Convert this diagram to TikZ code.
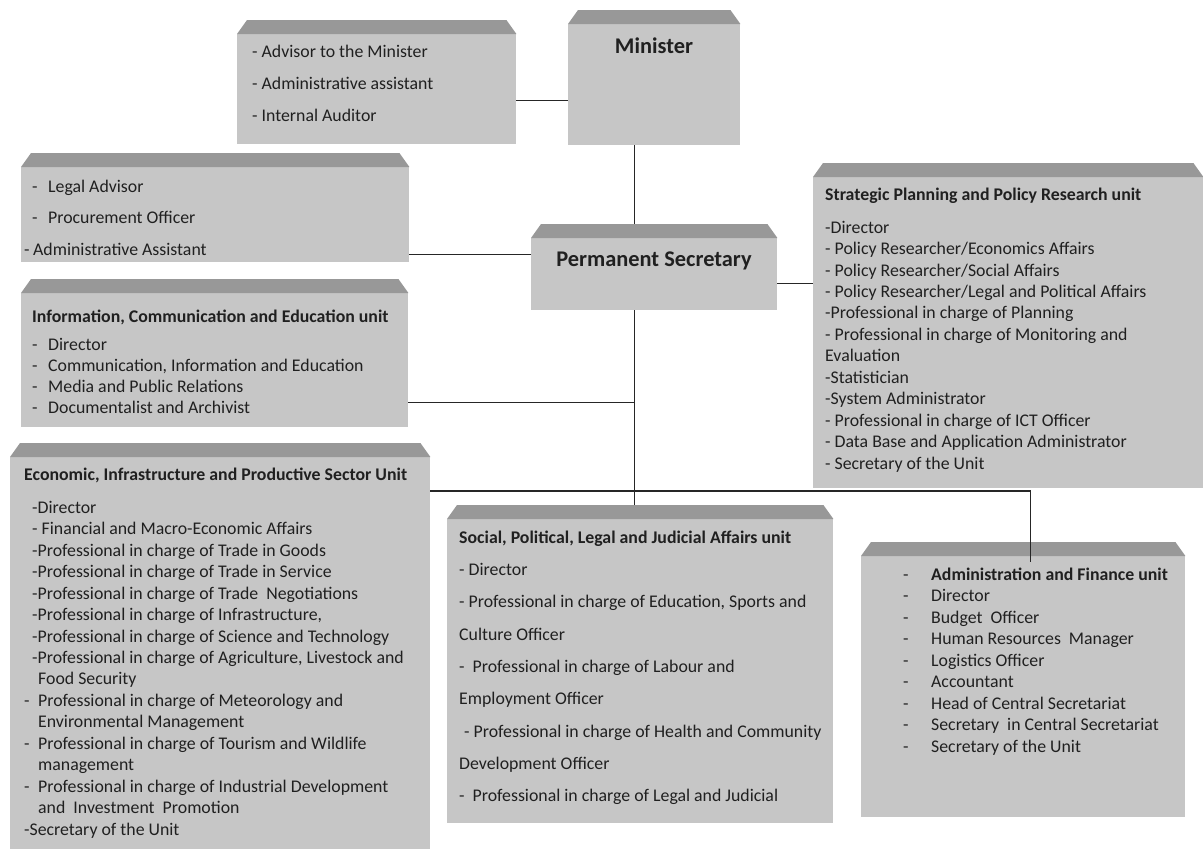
\documentclass[tikz,border=0pt]{standalone}
\usepackage{fontspec}
\setmainfont{Carlito}
\usepackage{xcolor}
\definecolor{boxbody}{RGB}{198,198,198}
\definecolor{boxtop}{RGB}{152,152,152}
\definecolor{inkgray}{RGB}{32,32,32}
\newcommand{\topline}{\rule{0pt}{14pt}}
\newcommand{\dash}[1]{\makebox[#1][l]{-}}
\tikzset{
  unitbox/.style={rectangle, inner sep=0pt, anchor=north west},
  unittext/.style={anchor=north west, inner sep=0pt, align=left, text=inkgray},
  headtext/.style={anchor=base, inner sep=0pt, text=inkgray, font=\fontsize{22.4}{26}\selectfont\bfseries},
  link/.style={line width=1.2pt, draw=black!85},
}

\begin{document}
\begin{tikzpicture}[x=1pt, y=1pt]
    \fill[white] (0,0) rectangle (1203,-849); 
    \useasboundingbox (0,0) rectangle (1203,-849); 
    % boxes
    \node[unitbox, minimum width=279pt, minimum height=124pt] (adv) at (237,-20) {}; 
    \node[unitbox, minimum width=172pt, minimum height=135pt] (mini) at (568,-10) {}; 
    \node[unitbox, minimum width=388pt, minimum height=109pt] (legal) at (21,-153) {}; 
    \node[unitbox, minimum width=246pt, minimum height=86pt] (ps) at (531,-224) {}; 
    \node[unitbox, minimum width=390pt, minimum height=325pt] (spr) at (813,-163) {}; 
    \node[unitbox, minimum width=387pt, minimum height=148pt] (ice) at (21,-279) {}; 
    \node[unitbox, minimum width=420pt, minimum height=406pt] (eips) at (10,-443) {}; 
    \node[unitbox, minimum width=386pt, minimum height=318pt] (splj) at (447,-505) {}; 
    \node[unitbox, minimum width=324pt, minimum height=275pt] (admin) at (861,-542) {}; 
    \foreach \n in {adv,mini,legal,ps,spr,ice,eips,splj,admin} { 
        \fill[boxbody] ([yshift=-14pt]\n.north west) rectangle (\n.south east); 
        \fill[boxtop] ([yshift=-14pt]\n.north west) -- ([xshift=10pt]\n.north west) -- ([xshift=-10pt]\n.north east) -- ([yshift=-14pt]\n.north east) -- cycle; 
    } 
    % texts
    \node[headtext] (minitext) at (654,-53) {Minister}; 
    \node[headtext] (pstext) at (654,-266) {Permanent Secretary}; 
    \node[unittext, font=\fontsize{17.8}{32}\selectfont] (advtext) at (252,-43) {\topline- Advisor to the Minister\\- Administrative assistant\\- Internal Auditor}; 
    \node[unittext, font=\fontsize{17.8}{31.5}\selectfont] (legaltext) at (24,-178) {\topline\hspace*{8pt}\dash{16pt}Legal Advisor\\\hspace*{8pt}\dash{16pt}Procurement Officer\\\dash{9pt}Administrative Assistant}; 
    \node[unittext, font=\fontsize{17.8}{21}\selectfont] (icetext) at (32,-308) {\topline{\bfseries Information, Communication and Education unit}\\[7pt]
        \dash{16pt}Director\\\dash{16pt}Communication, Information and Education\\\dash{16pt}Media and Public Relations\\\dash{16pt}Documentalist and Archivist}; 
    \node[unittext, font=\fontsize{17.8}{21.45}\selectfont] (sprtext) at (825,-186) {\topline{\bfseries Strategic Planning and Policy Research unit}\\[11.5pt]
        -Director\\- Policy Researcher/Economics Affairs\\- Policy Researcher/Social Affairs\\- Policy Researcher/Legal and Political Affairs\\
        -Professional in charge of Planning\\- Professional in charge of Monitoring and\\Evaluation\\-Statistician\\-System Administrator\\
        - Professional in charge of ICT Officer\\- Data Base and Application Administrator\\- Secretary of the Unit}; 
    \node[unittext, font=\fontsize{17.8}{21.47}\selectfont] (eipstext) at (24,-466) {\topline{\bfseries Economic, Infrastructure and Productive Sector Unit}\\[11.5pt]
        \hspace*{8pt}-Director\\\hspace*{8pt}- Financial and Macro-Economic Affairs\\
        \hspace*{8pt}-Professional in charge of Trade in Goods\\\hspace*{8pt}-Professional in charge of Trade in Service\\
        \hspace*{8pt}-Professional in charge of Trade\ \ Negotiations\\\hspace*{8pt}-Professional in charge of Infrastructure,\\
        \hspace*{8pt}-Professional in charge of Science and Technology\\\hspace*{8pt}-Professional in charge of Agriculture, Livestock and\\
        \hspace*{14pt}Food Security\\\dash{14pt}Professional in charge of Meteorology and\\\hspace*{14pt}Environmental Management\\
        \dash{14pt}Professional in charge of Tourism and Wildlife\\\hspace*{14pt}management\\
        \dash{14pt}Professional in charge of Industrial Development\\\hspace*{14pt}and\ \ Investment\ \ Promotion\\-Secretary of the Unit}; 
    \node[unittext, font=\fontsize{17.8}{32.3}\selectfont] (splitext) at (459,-529) {\topline{\bfseries Social, Political, Legal and Judicial Affairs unit}\\
        - Director\\- Professional in charge of Education, Sports and\\Culture Officer\\-\ \ Professional in charge of Labour and\\Employment Officer\\
        \hspace*{5pt}- Professional in charge of Health and Community\\Development Officer\\-\ \ Professional in charge of Legal and Judicial}; 
    \node[unittext, font=\fontsize{17.8}{21.5}\selectfont] (admintext) at (903,-566) {\topline\dash{28pt}{\bfseries Administration and Finance unit}\\
        \dash{28pt}Director\\\dash{28pt}Budget\ \ Officer\\\dash{28pt}Human Resources\ \ Manager\\\dash{28pt}Logistics Officer\\
        \dash{28pt}Accountant\\\dash{28pt}Head of Central Secretariat\\\dash{28pt}Secretary\ \ in Central Secretariat\\\dash{28pt}Secretary of the Unit}; 
    % links
    \coordinate (trunk) at ([xshift=-20pt]ps.south); 
    \draw[link] ([yshift=-18pt]adv.east) coordinate (advlink) -- (advlink -| mini.west); 
    \draw[link] ([xshift=-20pt]mini.south) coordinate (minilink) -- (minilink |- ps.north); 
    \draw[link] ([yshift=13pt]ps.west) coordinate (legallink) -- (legallink -| legal.east); 
    \draw[link] ([yshift=-16pt]ps.east) coordinate (sprlink) -- (sprlink -| spr.west); 
    \draw[link] (trunk) -- (trunk |- splj.north); 
    \draw[link] ([yshift=-49pt]ice.east) coordinate (icelink) -- (icelink -| trunk); 
    \draw[link] ([yshift=-48pt]eips.north east) -| ([xshift=7pt,yshift=-20pt]admin.north); 
\end{tikzpicture}
\end{document}
